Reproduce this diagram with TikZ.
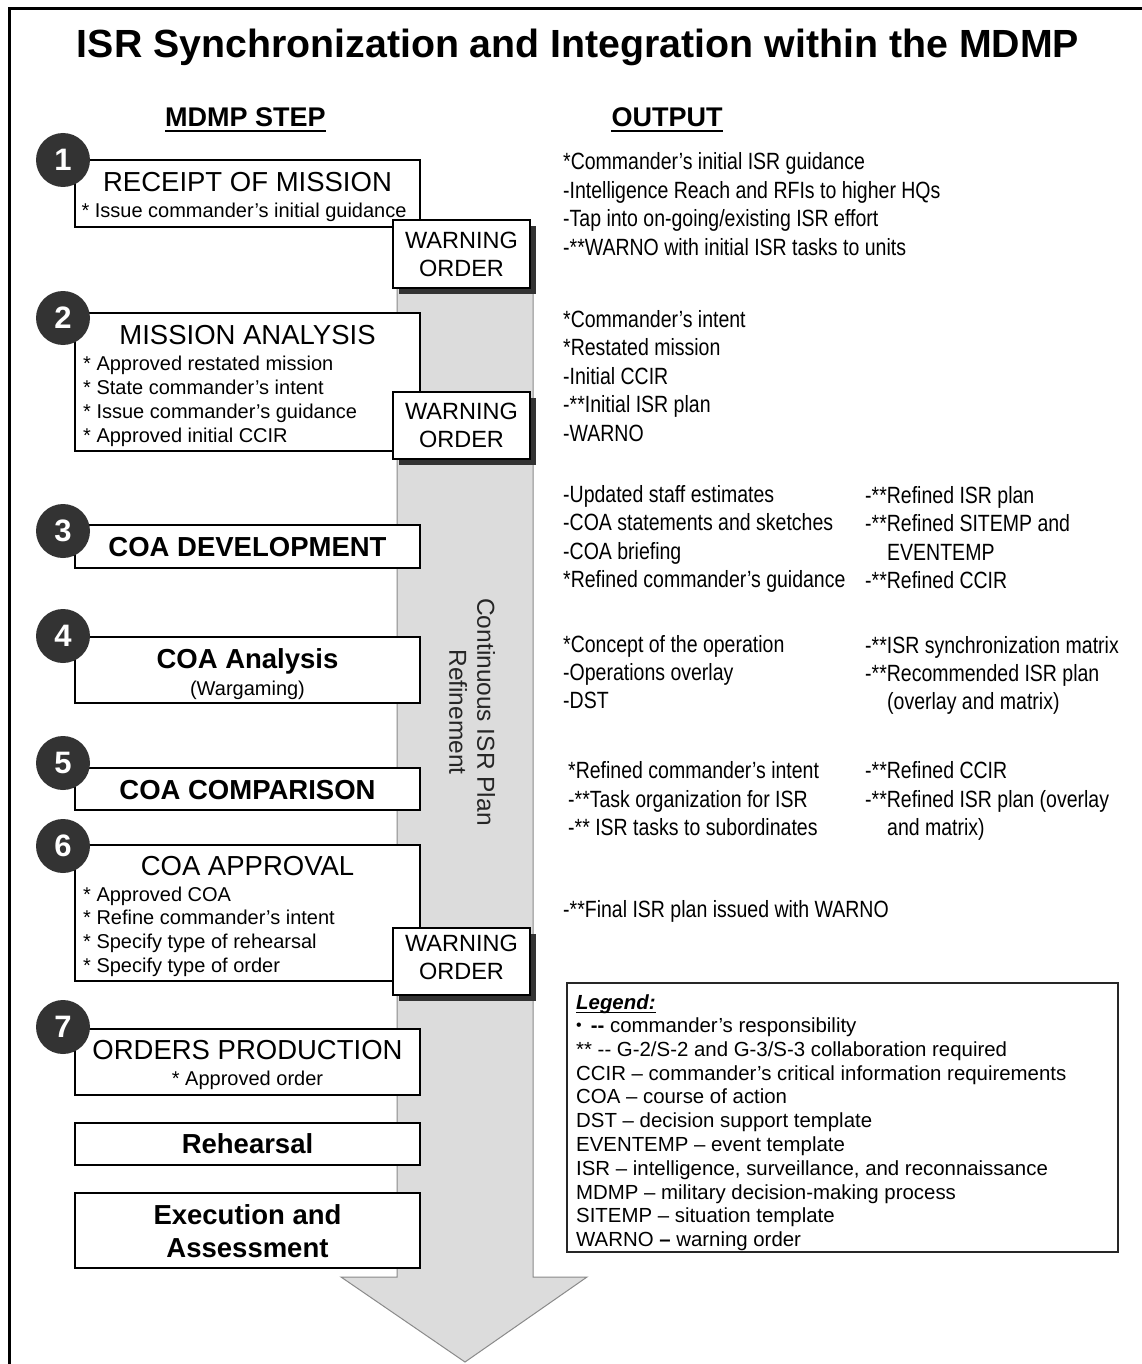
\documentclass[tikz,border=0pt]{standalone}
\usepackage{fontspec}
\setmainfont{Liberation Sans}
\newfontfamily\narrowfont[FakeStretch=0.83]{Liberation Sans}
\usetikzlibrary{shadows}
\definecolor{dotgray}{HTML}{333333}
\definecolor{shaftfill}{HTML}{DCDCDC}
\definecolor{shaftline}{HTML}{8A8A8A}
\begin{document}
\begin{tikzpicture}[x=1pt,y=-1pt,
  stepbox/.style={draw=black, line width=2pt, fill=white, minimum width=345pt, inner sep=0pt},
  wobox/.style={draw=black, line width=2pt, fill=white, minimum width=137pt, minimum height=67pt, inner sep=0pt,
    drop shadow={shadow xshift=6pt, shadow yshift=-6pt, fill=dotgray, opacity=1}},
  numdot/.style={circle, fill=dotgray, minimum size=54pt, inner sep=0pt, text=white,
    font=\bfseries\fontsize{31}{31}\selectfont},
  ttl/.style={inner sep=0pt, text height=19.7pt, text depth=0pt, font=\fontsize{27.5}{33}\selectfont},
  ttlb/.style={inner sep=0pt, text height=19.7pt, text depth=0pt, font=\bfseries\fontsize{27.5}{33}\selectfont},
  itm/.style={inner sep=0pt, text height=14.3pt, text depth=0pt, font=\fontsize{20}{24}\selectfont},
  itml/.style={itm, anchor=west},
  wotxt/.style={inner sep=0pt, text height=16.8pt, text depth=0pt, font=\fontsize{23.5}{28}\selectfont},
  outp/.style={inner sep=0pt, text height=16.8pt, text depth=0pt, anchor=west,
    font=\narrowfont\fontsize{23.5}{28}\selectfont},
  leg/.style={inner sep=0pt, text height=14.6pt, text depth=0pt, anchor=west, font=\fontsize{20.4}{24}\selectfont},
  hdr/.style={inner sep=0pt, text height=19.3pt, text depth=0pt, font=\bfseries\fontsize{27}{32}\selectfont},
]
\useasboundingbox (0,0) rectangle (1141,1364);
\fill[white] (0,0) rectangle (1141,1364);

% outer frame: left and top edges
\draw[line width=3pt] (9,1380) -- (9,9) -- (1160,9);

% title and column headers
\node[inner sep=0pt, text height=28pt, text depth=0pt, font=\bfseries\fontsize{39.3}{46}\selectfont]
  (title) at (578,44) {ISR Synchronization and Integration within the MDMP};
\node[hdr] (hstep) at (245.5,117) {MDMP STEP};
\node[hdr] (hout) at (667,117) {OUTPUT};
\draw[line width=2pt] ([yshift=-4pt]hstep.south west) -- ([yshift=-4pt]hstep.south east);
\draw[line width=2pt] ([yshift=-4pt]hout.south west) -- ([yshift=-4pt]hout.south east);

% the big downward arrow
\draw[draw=shaftline, fill=shaftfill, line width=1pt]
  (397,235) -- (533,235) -- (533,1277) -- (587,1277) -- (465,1362) -- (341,1277) -- (397,1277) -- cycle;
\node[rotate=-90, align=center, inner sep=0pt, text=black!85, font=\fontsize{24.5}{28}\selectfont]
  (refine) at (472,712) {Continuous ISR Plan\\Refinement};

% step boxes
\node[stepbox, minimum height=67pt]  (s1)  at (247.5,193.5) {};
\node[stepbox, minimum height=138pt] (s2)  at (247.5,382) {};
\node[stepbox, minimum height=43pt]  (s3)  at (247.5,546) {};
\node[stepbox, minimum height=66pt]  (s4)  at (247.5,670) {};
\node[stepbox, minimum height=42pt]  (s5)  at (247.5,789) {};
\node[stepbox, minimum height=136pt] (s6)  at (247.5,913) {};
\node[stepbox, minimum height=66pt]  (s7)  at (247.5,1062) {};
\node[stepbox, minimum height=42pt]  (reh) at (247.5,1144) {};
\node[stepbox, minimum height=75pt]  (exe) at (247.5,1230.5) {};

% numbered markers
\node[numdot] (n1) at (63,160) {1};
\node[numdot] (n2) at (63,318) {2};
\node[numdot] (n3) at (63,531) {3};
\node[numdot] (n4) at (63,636) {4};
\node[numdot] (n5) at (63,763) {5};
\node[numdot] (n6) at (63,846) {6};
\node[numdot] (n7) at (63,1027) {7};

% warning order boxes
\node[wobox] (wo1) at (461.5,254) {};
\node[wotxt] (wo1a) at (461.5,240) {WARNING};
\node[wotxt] (wo1b) at (461.5,268) {ORDER};
\node[wobox] (wo2) at (461.5,425) {};
\node[wotxt] (wo2a) at (461.5,411) {WARNING};
\node[wotxt] (wo2b) at (461.5,439) {ORDER};
\node[wobox] (wo3) at (461.5,961) {};
\node[wotxt] (wo3a) at (461.5,943) {WARNING};
\node[wotxt] (wo3b) at (461.5,971) {ORDER};

% step texts
\node[ttl] (t1) at (247.5,182) {RECEIPT OF MISSION};
\node[itm] (t1a) at (244,210) {* Issue commander’s initial guidance};

\node[ttl] (t2) at (247.5,335) {MISSION ANALYSIS};
\node[itml] (t2a) at (83,363) {* Approved restated mission};
\node[itml] (t2b) at (83,387) {* State commander’s intent};
\node[itml] (t2c) at (83,411) {* Issue commander’s guidance};
\node[itml] (t2d) at (83,435) {* Approved initial CCIR};

\node[ttlb] (t3) at (247.5,547) {COA DEVELOPMENT};

\node[ttlb] (t4) at (247.5,659) {COA Analysis};
\node[itm] (t4a) at (247.5,688) {(Wargaming)};

\node[ttlb] (t5) at (247.5,790) {COA COMPARISON};

\node[ttl] (t6) at (247.5,866) {COA APPROVAL};
\node[itml] (t6a) at (83,894) {* Approved COA};
\node[itml] (t6b) at (83,917) {* Refine commander’s intent};
\node[itml] (t6c) at (83,941) {* Specify type of rehearsal};
\node[itml] (t6d) at (83,965) {* Specify type of order};

\node[ttl] (t7) at (247.5,1050) {ORDERS PRODUCTION};
\node[itm] (t7a) at (247.5,1078) {* Approved order};

\node[ttlb] (tr) at (247.5,1144) {Rehearsal};
\node[ttlb] (te1) at (247.5,1215) {Execution and};
\node[ttlb] (te2) at (247.5,1248) {Assessment};

% outputs
\node[outp] (o1a) at (563,161) {*Commander’s initial ISR guidance};
\node[outp] (o1b) at (563,190) {-Intelligence Reach and RFIs to higher HQs};
\node[outp] (o1c) at (563,218) {-Tap into on-going/existing ISR effort};
\node[outp] (o1d) at (563,247) {-**WARNO with initial ISR tasks to units};

\node[outp] (o2a) at (563,319) {*Commander’s intent};
\node[outp] (o2b) at (563,347) {*Restated mission};
\node[outp] (o2c) at (563,376) {-Initial CCIR};
\node[outp] (o2d) at (563,404) {-**Initial ISR plan};
\node[outp] (o2e) at (563,433) {-WARNO};

\node[outp] (o3a) at (563,494) {-Updated staff estimates};
\node[outp] (o3b) at (563,522) {-COA statements and sketches};
\node[outp] (o3c) at (563,551) {-COA briefing};
\node[outp] (o3d) at (563,579) {*Refined commander’s guidance};
\node[outp] (o3e) at (865,495) {-**Refined ISR plan};
\node[outp] (o3f) at (865,523) {-**Refined SITEMP and};
\node[outp] (o3g) at (887,552) {EVENTEMP};
\node[outp] (o3h) at (865,580) {-**Refined CCIR};

\node[outp] (o4a) at (563,644) {*Concept of the operation};
\node[outp] (o4b) at (563,672) {-Operations overlay};
\node[outp] (o4c) at (563,700) {-DST};
\node[outp] (o4d) at (865,645) {-**ISR synchronization matrix};
\node[outp] (o4e) at (865,673) {-**Recommended ISR plan};
\node[outp] (o4f) at (887,701) {(overlay and matrix)};

\node[outp] (o5a) at (568,770) {*Refined commander’s intent};
\node[outp] (o5b) at (568,799) {-**Task organization for ISR};
\node[outp] (o5c) at (568,827) {-** ISR tasks to subordinates};
\node[outp] (o5d) at (865,770) {-**Refined CCIR};
\node[outp] (o5e) at (865,799) {-**Refined ISR plan (overlay};
\node[outp] (o5f) at (887,827) {and matrix)};

\node[outp] (o6a) at (563,909) {-**Final ISR plan issued with WARNO};

% legend
\node[draw=black!85, line width=1.5pt, minimum width=551pt, minimum height=269pt, inner sep=0pt]
  (legbox) at (842.5,1117.5) {};
\node[leg, font=\bfseries\itshape\fontsize{20.4}{24}\selectfont] (lg0) at (576,1002) {Legend:};
\draw[line width=1.5pt] ([yshift=-3pt]lg0.south west) -- ([yshift=-3pt]lg0.south east);
\node[leg] (lg1)  at (576,1025) {\raisebox{1.5pt}{\fontsize{16}{16}\selectfont\textbullet}\hspace{9pt}\textbf{-{}-} commander’s responsibility};
\node[leg] (lg2)  at (576,1049) {** -{}- G-2/S-2 and G-3/S-3 collaboration required};
\node[leg] (lg3)  at (576,1073) {CCIR – commander’s critical information requirements};
\node[leg] (lg4)  at (576,1096) {COA – course of action};
\node[leg] (lg5)  at (576,1120) {DST – decision support template};
\node[leg] (lg6)  at (576,1144) {EVENTEMP – event template};
\node[leg] (lg7)  at (576,1168) {ISR – intelligence, surveillance, and reconnaissance};
\node[leg] (lg8)  at (576,1192) {MDMP – military decision-making process};
\node[leg] (lg9)  at (576,1215) {SITEMP – situation template};
\node[leg] (lg10) at (576,1239) {WARNO \textbf{–} warning order};
\end{tikzpicture}
\end{document}
